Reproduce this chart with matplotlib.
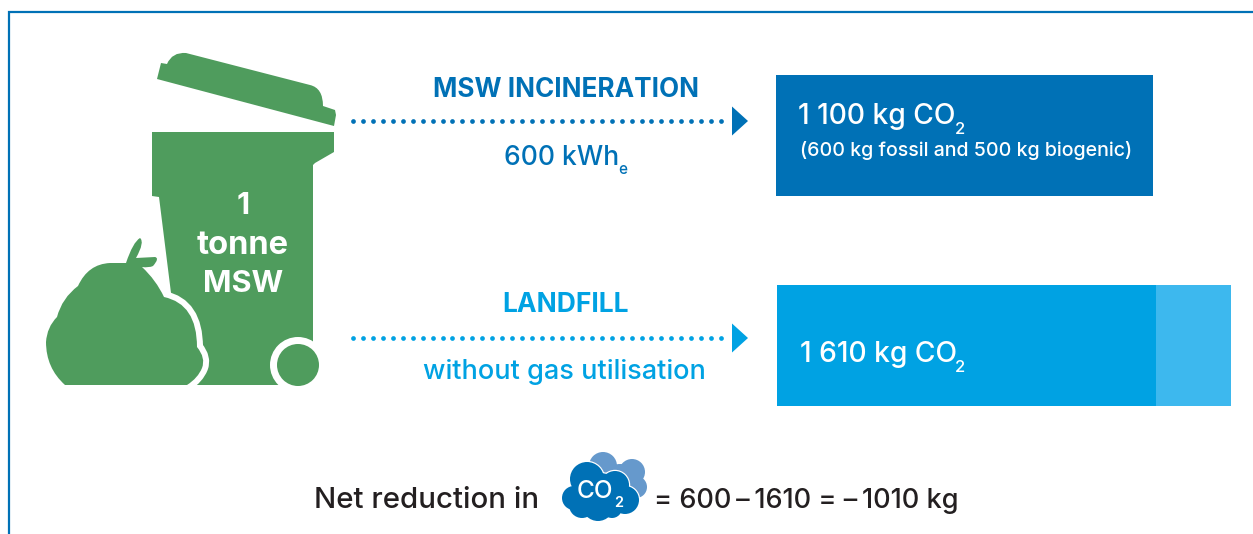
#!/usr/bin/python3

import matplotlib
matplotlib.use('Agg')
import matplotlib.pyplot as plt
import numpy as np
from matplotlib.patches import Circle, PathPatch, Polygon, Rectangle
from matplotlib.path import Path

W, H = 1253, 534

DARK = '#0071b6'
LIGHT = '#00a2e3'
PALE = '#3db8ee'
GREEN = '#4f9c5d'
CLOUD_BACK = '#6699cc'
INK = '#231f20'

incineration_kg = [1100]
landfill_kg = [1344, 266]
landfill_colors = [LIGHT, PALE]

plt.rcParams['font.family'] = ['Inter', 'DejaVu Sans']
plt.rcParams['font.weight'] = 'medium'


def curve_path(start, segs):
    # segs: plain (x, y) is a straight line, ((cx, cy), (x, y)) a quadratic curve
    verts = [start]
    codes = [Path.MOVETO]
    for s in segs:
        if isinstance(s[0], tuple):
            verts += [s[0], s[1]]
            codes += [Path.CURVE3, Path.CURVE3]
        else:
            verts.append(s)
            codes.append(Path.LINETO)
    verts.append(start)
    codes.append(Path.CLOSEPOLY)
    return Path(verts, codes)


def bar_axes(fig, x0, x1, y0, y1):
    a = fig.add_axes([x0 / W, 1 - y1 / H, (x1 - x0) / W, (y1 - y0) / H])
    a.axis('off')
    return a


def draw_bin(ax):
    lid = curve_path((157, 79), [
        (161, 63), (167, 64),
        ((172, 52), (186, 53)),
        (310, 85),
        ((323, 88), (323, 106)),
        (335, 110), (336, 115), (334, 126)])
    ax.add_patch(PathPatch(lid, fc=GREEN, ec='none'))
    body = [(152, 132), (334, 132), (334, 152), (315, 163), (313, 165),
            (313, 385), (171, 385), (171, 293), (159, 197), (152, 196)]
    ax.add_patch(Polygon(body, closed=True, fc=GREEN, ec='none'))
    ring = Circle((298, 365), 28, fc='white', ec='none')
    ring.set_clip_path(Rectangle((0, 0), W, 385, transform=ax.transData))
    ax.add_patch(ring)
    ax.add_patch(Circle((298, 365), 21, fc=GREEN, ec='none'))


def draw_bag(ax):
    bag = curve_path((65, 385), [
        ((46, 368), (46, 342)),
        ((47, 327), (57, 317)),
        ((62, 298), (78, 286)),
        ((88, 264), (110, 263)),
        (126, 263),
        ((133, 242), (140, 238)),
        ((145, 242), (136, 258)),
        (155, 257),
        ((160, 258), (153, 266)),
        ((149, 268), (142, 267)),
        ((156, 280), (164, 297)),
        ((197, 304), (197, 347)),
        ((206, 358), (202, 368)),
        ((198, 378), (187, 385))])
    clip = Rectangle((0, 0), W, 385, transform=ax.transData)
    ax.add_patch(PathPatch(bag, fc='white', ec='white', lw=8.6, joinstyle='round', clip_path=clip))
    ax.add_patch(PathPatch(bag, fc=GREEN, ec='none'))


def draw_arrow(ax, y, color):
    xs = np.arange(353, 730, 9.95)
    ax.plot(xs, [y] * len(xs), ls='none', marker='o', ms=3.4, mfc=color, mec='none')
    ax.add_patch(Polygon([(732, y - 14.5), (748, y), (732, y + 14.5)], closed=True, fc=color, ec='none'))


def draw_cloud(ax):
    back = [(603, 466, 14), (632, 472, 13), (636, 487, 11), (620, 482, 18)]
    for x, y, r in back:
        ax.add_patch(Circle((x, y), r, fc=CLOUD_BACK, ec='none'))
    front = [(587, 479, 17), (574, 498, 12), (582, 505, 13), (615, 485, 14),
             (625, 500, 14), (598, 505, 16), (612, 508, 10), (600, 495, 22)]
    for x, y, r in front:
        ax.add_patch(Circle((x, y), r + 1.2, fc='white', ec='none'))
    for x, y, r in front:
        ax.add_patch(Circle((x, y), r, fc=DARK, ec='none'))


def main():
    fig = plt.figure(figsize=(W / 100, H / 100), dpi=100)
    ax = fig.add_axes([0, 0, 1, 1])
    ax.set_xlim(0, W)
    ax.set_ylim(H, 0)
    ax.axis('off')

    # frame, open at the right and bottom
    ax.plot([9, 9, W], [H, 12, 12], color=DARK, lw=1.6, solid_joinstyle='miter')

    draw_bin(ax)
    draw_bag(ax)
    ax.text(243, 206, '1', color='white', fontsize=22, fontweight='bold', ha='center', va='center')
    ax.text(243, 245, 'tonne', color='white', fontsize=23.5, fontweight='bold', ha='center', va='center')
    ax.text(243, 284, 'MSW', color='white', fontsize=22, fontweight='bold', ha='center', va='center')

    draw_arrow(ax, 121, DARK)
    draw_arrow(ax, 338, LIGHT)

    ax.text(566, 90, 'MSW INCINERATION', color=DARK, fontsize=18.8, fontweight='bold', ha='center', va='center')
    ax.text(504, 158, '600 kWh', color=DARK, fontsize=19, ha='left', va='center')
    ax.text(618, 169, 'e', color=DARK, fontsize=11, ha='left', va='center')
    ax.text(565, 305, 'LANDFILL', color=LIGHT, fontsize=19, fontweight='bold', ha='center', va='center')
    ax.text(564, 372, 'without gas utilisation', color=LIGHT, fontsize=19.5, ha='center', va='center')

    # bars, each on its own kg scale
    top = bar_axes(fig, 776, 1153, 75, 196)
    top.set_xlim(0, sum(incineration_kg))
    top.set_ylim(0, 1)
    top.barh(0.5, incineration_kg[0], height=1, color=DARK)

    bottom = bar_axes(fig, 777, 1231, 285, 406)
    bottom.set_xlim(0, sum(landfill_kg))
    bottom.set_ylim(0, 1)
    left = 0
    for v, c in zip(landfill_kg, landfill_colors):
        bottom.barh(0.5, v, left=left, height=1, color=c)
        left += v

    over = fig.add_axes([0, 0, 1, 1], facecolor='none')
    over.set_xlim(0, W)
    over.set_ylim(H, 0)
    over.axis('off')
    over.text(798, 117, '1 100 kg CO', color='white', fontsize=20.3, ha='left', va='center')
    over.text(955, 129, '2', color='white', fontsize=12, ha='left', va='center')
    over.text(800, 151, '(600 kg fossil and 500 kg biogenic)', color='white', fontsize=14.1, ha='left', va='center')
    over.text(800, 355, '1 610 kg CO', color='white', fontsize=20.3, ha='left', va='center')
    over.text(955, 367, '2', color='white', fontsize=12, ha='left', va='center')

    draw_cloud(over)
    over.text(577, 491, 'CO', color='white', fontsize=17.5, ha='left', va='center')
    over.text(614, 503, '2', color='white', fontsize=10.5, fontweight='semibold', ha='left', va='center')

    over.text(314, 501, 'Net reduction in', color=INK, fontsize=21.2, ha='left', va='center')
    over.text(654, 501, '= 600\u2009–\u20091610 = –\u20091010 kg', color=INK, fontsize=19.5, ha='left', va='center')

    plt.savefig('out.png', dpi=100)


if __name__ == '__main__':
    main()
